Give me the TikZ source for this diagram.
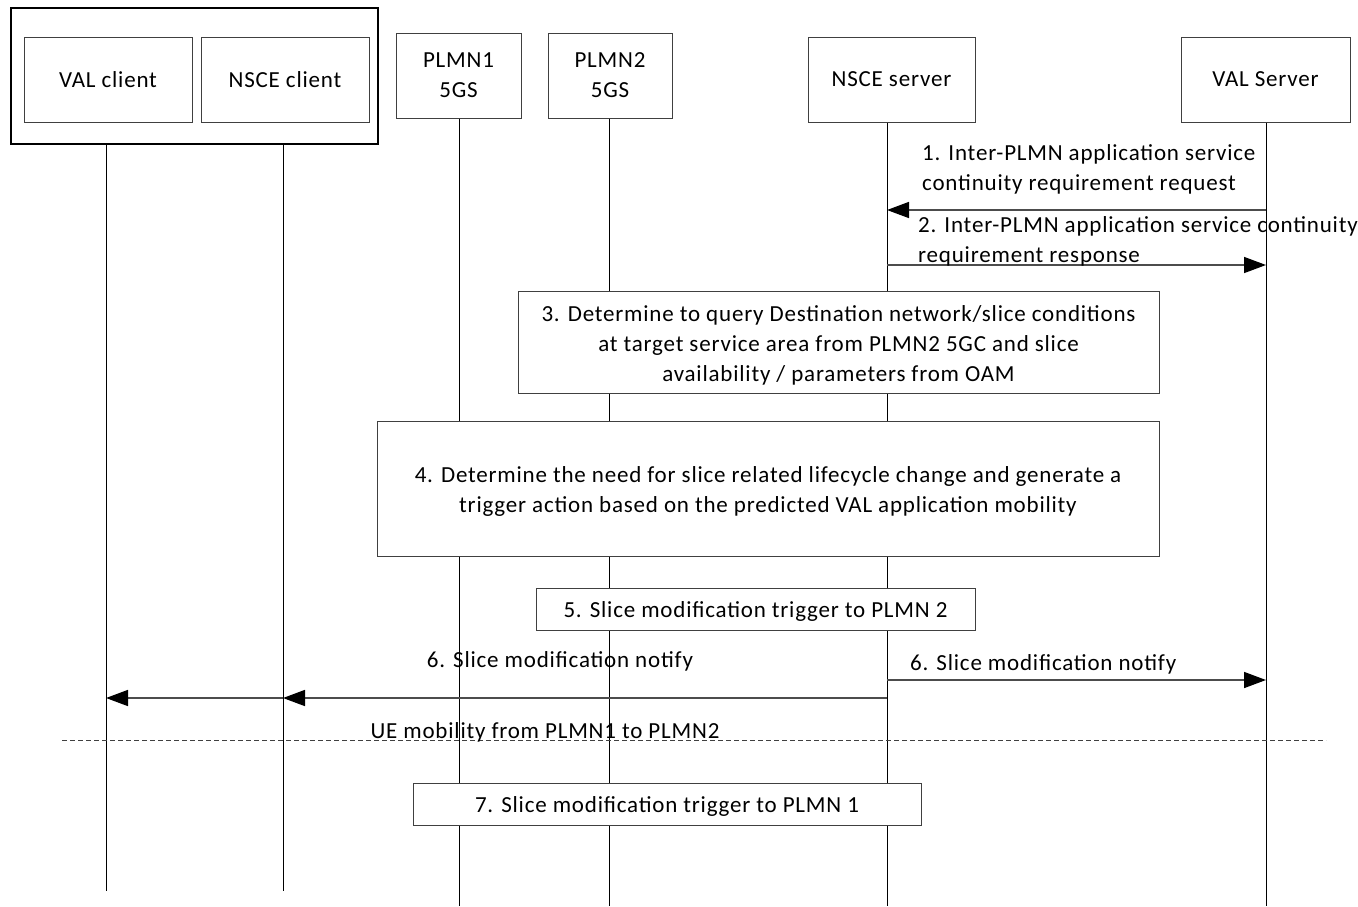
\documentclass[tikz,border=0pt]{standalone}
\usepackage{fontspec}
\setmainfont{Carlito}[LetterSpace=3.5]
\usetikzlibrary{arrows.meta}
\begin{document}
\begin{tikzpicture}[x=1pt,y=-1pt,
 every node/.style={font=\fontsize{23}{30}\selectfont, inner sep=0pt},
 actor/.style={draw=black!75, line width=1pt, fill=white, align=center},
 stepbox/.style={draw=black!75, line width=1pt, fill=white},
 steptext/.style={align=center},
 life/.style={draw=black, line width=0.9pt},
 msg/.style={draw=black!70, line width=1.5pt, -{Triangle[length=22pt,width=16pt,fill=black,color=black]}},
 lbl/.style={align=left, anchor=west}
]
\useasboundingbox (0,0) rectangle (1358,906);
\clip (0,0) rectangle (1358,906);
\fill[white] (0,0) rectangle (1358,906);

% lifeline ends
\coordinate (valcE) at (106,891);
\coordinate (nsccE) at (283,891);
\coordinate (p1E) at (459,906);
\coordinate (p2E) at (609,906);
\coordinate (nssE) at (887,906);
\coordinate (valsE) at (1266,906);

% UE group and actors
\node[draw=black, line width=2.5pt, minimum width=367pt, minimum height=136pt] (ue) at (194.5,76) {};
\node[actor, minimum width=168pt, minimum height=85pt] (valc) at (108,79.5) {VAL client};
\node[actor, minimum width=168pt, minimum height=85pt] (nscc) at (285,79.5) {NSCE client};
\node[actor, minimum width=125pt, minimum height=85pt] (p1) at (458.5,75.5) {PLMN1\\5GS};
\node[actor, minimum width=124pt, minimum height=85pt] (p2) at (610,75.5) {PLMN2\\5GS};
\node[actor, minimum width=167pt, minimum height=85pt] (nss) at (891.5,79.5) {NSCE server};
\node[actor, minimum width=169pt, minimum height=85pt] (vals) at (1265.5,79.5) {VAL Server};

% lifelines
\draw[life] (valcE |- ue.south) -- (valcE);
\draw[life] (nsccE |- ue.south) -- (nsccE);
\draw[life] (p1E |- p1.south) -- (p1E);
\draw[life] (p2E |- p2.south) -- (p2E);
\draw[life] (nssE |- nss.south) -- (nssE);
\draw[life] (valsE |- vals.south) -- (valsE);

% step boxes
\node[stepbox, minimum width=641pt, minimum height=102pt] (b3) at (838.5,342) {};
\node[steptext] (b3t) at ([yshift=-3pt]b3.center)
 {3. Determine to query Destination network/slice conditions\\at target service area from PLMN2 5GC and slice\\availability / parameters from OAM};
\node[stepbox, minimum width=782pt, minimum height=135pt] (b4) at (768,488.5) {};
\node[steptext] (b4t) at ([yshift=-3pt]b4.center)
 {4. Determine the need for slice related lifecycle change and generate a\\trigger action based on the predicted VAL application mobility};
\node[stepbox, minimum width=439pt, minimum height=42pt] (b5) at (755.5,609) {};
\node[steptext] (b5t) at ([yshift=-2pt]b5.center) {5. Slice modification trigger to PLMN 2};
\node[stepbox, minimum width=508pt, minimum height=42pt] (b7) at (667,804.5) {};
\node[steptext] (b7t) at ([yshift=-2pt]b7.center) {7. Slice modification trigger to PLMN 1};

% message coordinates
\coordinate (m1s) at (1266,210); \coordinate (m1e) at (887,210);
\coordinate (m2s) at (887,265);  \coordinate (m2e) at (1266,265);
\coordinate (m6s) at (887,680);  \coordinate (m6e) at (1266,680);
\coordinate (m6ls) at (887,698); \coordinate (m6lm) at (283,698); \coordinate (m6le) at (106,698);
\coordinate (dl) at (62,740); \coordinate (dr) at (1326,740);

\draw[msg] (m1s) -- (m1e);
\draw[msg] (m2s) -- (m2e);
\draw[msg] (m6s) -- (m6e);
\draw[msg] (m6ls) -- (m6lm);
\draw[msg] (m6lm) -- (m6le);
\draw[black!75, line width=1pt, dash pattern=on 5pt off 3pt] (dl) -- (dr);

% labels
\node[lbl] (t1) at (922,169.5) {1. Inter-PLMN application service\\continuity requirement request};
\node[lbl] (t2) at (918,241) {2. Inter-PLMN application service continuity\\requirement response};
\node[lbl] (t6r) at (910,664.5) {6. Slice modification notify};
\node (t6l) at (560,661) {6. Slice modification notify};
\node (tue) at (545,732) {UE mobility from PLMN1 to PLMN2};
\end{tikzpicture}
\end{document}
